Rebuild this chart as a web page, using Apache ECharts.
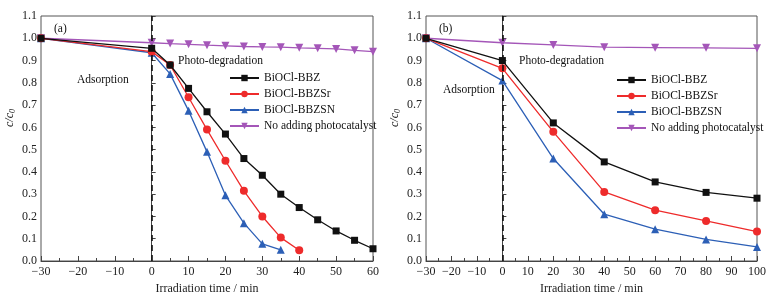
<!DOCTYPE html>
<html>
<head>
<meta charset="utf-8">
<script src="https://cdn.jsdelivr.net/npm/echarts@6/dist/echarts.min.js"></script>
<style>
  html, body { margin: 0; padding: 0; background: #fff; }
  #chart { width: 782px; height: 302px; }
</style>
</head>
<body>
<div id="chart"></div>
<script>
// panel (a)
const timeA = [-30, 0, 5, 10, 15, 20, 25, 30, 35, 40, 45, 50, 55, 60];
const bbzA = [1.0, 0.955, 0.88, 0.775, 0.67, 0.57, 0.46, 0.385, 0.30, 0.24, 0.185, 0.135, 0.093, 0.055];
const bbzSrA = [1.0, 0.94, 0.88, 0.735, 0.59, 0.45, 0.315, 0.20, 0.105, 0.048];
const bbzSnA = [1.0, 0.935, 0.84, 0.675, 0.49, 0.295, 0.17, 0.077, 0.05];
const noCatA = [1.0, 0.98, 0.976, 0.973, 0.969, 0.966, 0.963, 0.961, 0.96, 0.957, 0.955, 0.952, 0.946, 0.94];

// panel (b)
const timeB = [-30, 0, 20, 40, 60, 80, 100];
const bbzB = [1.0, 0.90, 0.62, 0.445, 0.355, 0.308, 0.282];
const bbzSrB = [1.0, 0.865, 0.58, 0.31, 0.228, 0.18, 0.132];
const bbzSnB = [1.0, 0.81, 0.46, 0.21, 0.143, 0.097, 0.063];
const noCatB = [1.0, 0.98, 0.97, 0.96, 0.958, 0.957, 0.955];

const names = ['BiOCl-BBZ', 'BiOCl-BBZSr', 'BiOCl-BBZSN', 'No adding photocatalyst'];
const colors = ['#111111', '#ee2b2b', '#2c5fb6', '#a456b8'];
const symbols = ['rect', 'circle', 'triangle', 'triangle'];
const rotates = [0, 0, 0, 180];

const font = '"Liberation Serif", "DejaVu Serif", serif';

function pair(t, v) {
  return v.map((y, i) => [t[i], y]);
}

function makeSeries(idx, dataSets, t) {
  return dataSets.map((d, k) => ({
    name: names[k],
    type: 'line',
    xAxisIndex: idx,
    yAxisIndex: idx,
    data: pair(t, d),
    symbol: symbols[k],
    symbolRotate: rotates[k],
    symbolSize: k === 0 ? 7 : 8,
    color: colors[k],
    lineStyle: { width: 1.3, color: colors[k] },
    itemStyle: { color: colors[k] },
    z: 5 - k,
    markLine: k === 0 ? {
      silent: true,
      symbol: 'none',
      label: { show: false },
      lineStyle: { type: [6, 4], color: '#111', width: 1.6 },
      data: [{ xAxis: 0 }]
    } : undefined
  }));
}

function xAxis(idx, max) {
  return {
    type: 'value',
    gridIndex: idx,
    min: -30, max: max, interval: 10,
    name: 'Irradiation time / min',
    nameLocation: 'middle',
    nameGap: 21,
    nameTextStyle: { fontFamily: font, fontSize: 12, color: '#222' },
    axisLine: { lineStyle: { color: '#444', width: 1 } },
    axisTick: { inside: true, length: 5, lineStyle: { color: '#444' } },
    minorTick: { show: true, splitNumber: 2, length: 3, lineStyle: { color: '#444' } },
    splitLine: { show: false },
    axisLabel: {
      fontFamily: font, fontSize: 12, color: '#222', margin: 5,
      formatter: v => (v < 0 ? '\u2212' + (-v) : String(v))
    }
  };
}

function yAxis(idx) {
  return {
    type: 'value',
    gridIndex: idx,
    min: 0, max: 1.1, interval: 0.1,
    axisLine: { show: true, lineStyle: { color: '#444', width: 1 } },
    axisTick: { show: true, inside: true, length: 4, lineStyle: { color: '#444' } },
    splitLine: { show: false },
    axisLabel: {
      fontFamily: font, fontSize: 12, color: '#222', margin: 4,
      formatter: v => v.toFixed(1)
    }
  };
}

function legend(left, top) {
  return {
    data: names,
    orient: 'vertical',
    left: left, top: top,
    itemWidth: 29, itemHeight: 8, itemGap: 4,
    textStyle: { fontFamily: font, fontSize: 11.5, color: '#111' }
  };
}

function label(text, x, y) {
  return {
    type: 'text', left: x, top: y,
    style: { text: text, fontFamily: font, fontSize: 11.5, fill: '#111' }
  };
}

function yName(x, y) {
  return {
    type: 'text', x: x, y: y, rotation: Math.PI / 2,
    style: {
      text: '{i|c/c}{s|0}',
      align: 'center', verticalAlign: 'middle',
      rich: {
        i: { fontFamily: font, fontStyle: 'italic', fontSize: 12, fill: '#222' },
        s: { fontFamily: font, fontStyle: 'italic', fontSize: 8, fill: '#222', padding: [6, 0, 0, 0] }
      }
    }
  };
}

const chart = echarts.init(document.getElementById('chart'));
chart.setOption({
  animation: false,
  backgroundColor: '#fff',
  grid: [
    { left: 41, right: 409, top: 16, bottom: 41, show: true, borderColor: '#555', borderWidth: 1 },
    { left: 426, right: 25, top: 16, bottom: 41, show: true, borderColor: '#555', borderWidth: 1 }
  ],
  xAxis: [xAxis(0, 60), xAxis(1, 100)],
  yAxis: [yAxis(0), yAxis(1)],
  legend: [legend(224, 67), legend(611, 69)],
  graphic: [
    label('(a)', 54, 23),
    label('Photo-degradation', 178, 55),
    label('Adsorption', 77, 74),
    label('(b)', 439, 23),
    label('Photo-degradation', 519, 55),
    label('Adsorption', 443, 84),
    yName(10, 118),
    yName(395, 118)
  ],
  series: [
    ...makeSeries(0, [bbzA, bbzSrA, bbzSnA, noCatA], timeA),
    ...makeSeries(1, [bbzB, bbzSrB, bbzSnB, noCatB], timeB)
  ]
});
</script>
</body>
</html>
